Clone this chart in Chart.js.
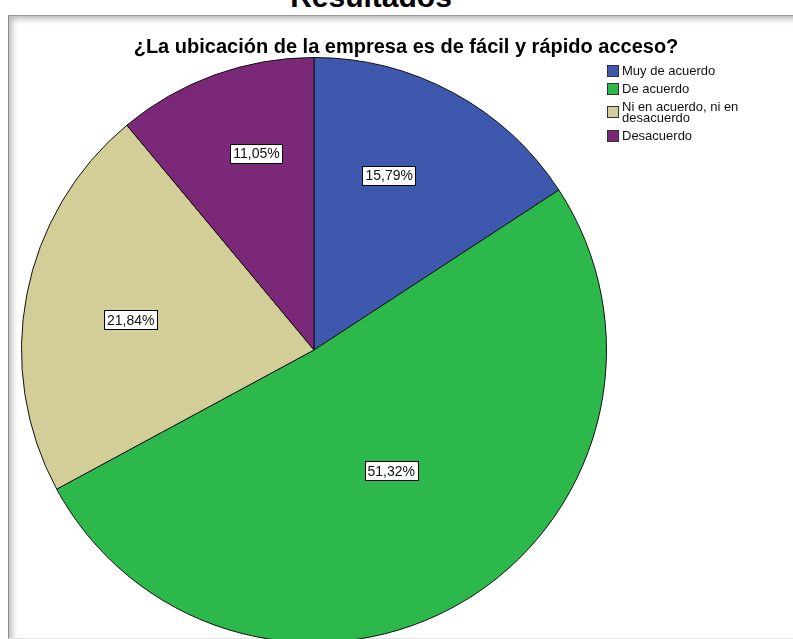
<!DOCTYPE html>
<html>
<head>
<meta charset="utf-8">
<script src="https://cdn.jsdelivr.net/npm/chart.js@4/dist/chart.umd.min.js"></script>
<style>
	html, body { margin: 0; padding: 0; background: #fff; width: 793px; height: 639px; overflow: hidden; font-family: "Liberation Sans", Arial, sans-serif; }
	#encabezado { position: absolute; left: 0; top: -18px; width: 742px; text-align: center; font-size: 30px; line-height: 30px; font-weight: bold; color: #000; }
	#marco { position: absolute; left: 8px; top: 15px; width: 820px; height: 622px; border-left: 1px solid #8c8c8c; border-top: 1px solid #9a9a9a; border-bottom: 1px solid #e4e4e4; box-shadow: inset 6px 6px 6px -3px rgba(0,0,0,0.28); }
	#grafica { position: absolute; left: 0; top: 0; }
</style>
</head>
<body>
<div id="encabezado">Resultados</div>
<div id="marco"></div>
<canvas id="grafica" width="793" height="660"></canvas>
<script>
/*******************************************************************************
 * Datos
 *******************************************************************************/

var titulo_pregunta = "¿La ubicación de la empresa es de fácil y rápido acceso?";
var respuestas = ["Muy de acuerdo", "De acuerdo", ["Ni en acuerdo, ni en", "desacuerdo"], "Desacuerdo"];
var porcentajes = [15.79, 51.32, 21.84, 11.05];
var colores = ["#3e58ad", "#2db84c", "#d3ce97", "#7b2878"];

/*******************************************************************************
 * Plugins de dibujo
 *******************************************************************************/

// Etiquetas con el porcentaje dentro de cada sector (caja blanca con borde negro)
var etiquetasPorcentaje = {
	id: 'etiquetasPorcentaje',
	afterDatasetsDraw: function (chart, args, opts)
	{
		var ctx = chart.ctx;
		var meta = chart.getDatasetMeta(0);
		var valores = chart.data.datasets[0].data;

		ctx.save();
		ctx.font = "14px 'Liberation Sans', Arial, sans-serif";
		ctx.textAlign = "center";
		ctx.textBaseline = "middle";

		meta.data.forEach(function (arco, i) {
			var p = arco.getProps(['x', 'y', 'startAngle', 'endAngle', 'outerRadius'], true);
			var sitio = opts.sitio[i];
			var angulo = p.startAngle + (p.endAngle - p.startAngle) * sitio[1];
			var r = p.outerRadius * sitio[0];
			var x = p.x + Math.cos(angulo) * r;
			var y = p.y + Math.sin(angulo) * r;

			var texto = valores[i].toFixed(2).replace(".", ",") + "%";
			var ancho = ctx.measureText(texto).width + 6;
			var alto = 19;

			ctx.fillStyle = "#fff";
			ctx.fillRect(Math.round(x - ancho / 2) + 0.5, Math.round(y - alto / 2) + 0.5, Math.round(ancho), alto);
			ctx.strokeStyle = "#000";
			ctx.lineWidth = 1;
			ctx.strokeRect(Math.round(x - ancho / 2) + 0.5, Math.round(y - alto / 2) + 0.5, Math.round(ancho), alto);

			ctx.fillStyle = "#111";
			ctx.fillText(texto, x, y + 1);
		});
		ctx.restore();
	}
};

// Titulo de la pregunta y leyenda a la derecha
var tituloYLeyenda = {
	id: 'tituloYLeyenda',
	afterDraw: function (chart, args, opts)
	{
		var ctx = chart.ctx;
		var dataset = chart.data.datasets[0];

		ctx.save();
		ctx.font = "bold 20px 'Liberation Sans', Arial, sans-serif";
		ctx.fillStyle = "#000";
		ctx.textAlign = "center";
		ctx.textBaseline = "alphabetic";
		ctx.fillText(opts.titulo, 406, 53);

		ctx.font = "13px 'Liberation Sans', Arial, sans-serif";
		ctx.textAlign = "left";
		ctx.textBaseline = "middle";

		var y = 70;
		var alto_linea = 11;
		chart.data.labels.forEach(function (etiqueta, i) {
			var lineas = Array.isArray(etiqueta) ? etiqueta : [etiqueta];
			var centro = y + (lineas.length - 1) * alto_linea / 2;

			ctx.fillStyle = dataset.backgroundColor[i];
			ctx.fillRect(607.5, Math.round(centro - 5.5) + 0.5, 11, 11);
			ctx.strokeStyle = "#333";
			ctx.lineWidth = 1;
			ctx.strokeRect(607.5, Math.round(centro - 5.5) + 0.5, 11, 11);

			ctx.fillStyle = "#111";
			lineas.forEach(function (linea, j) {
				ctx.fillText(linea, 622, y + j * alto_linea + 1);
			});
			y += (lineas.length - 1) * alto_linea + 18;
		});
		ctx.restore();
	}
};

/*******************************************************************************
 * Grafica
 *******************************************************************************/

var contexto_canvas = document.getElementById('grafica').getContext('2d');

var grafica = new Chart(contexto_canvas, {
	type: 'pie',
	data: {
		labels: respuestas,
		datasets: [{
			data: porcentajes,
			backgroundColor: colores,
			borderColor: "#111",
			borderWidth: 1
		}]
	},
	options: {
		responsive: false,
		animation: false,
		layout: {
			padding: { left: 21, right: 186, top: 57, bottom: 17 }
		},
		plugins: {
			legend: { display: false },
			title: { display: false },
			tooltip: { enabled: false },
			etiquetasPorcentaje: {
				// [fraccion del radio, posicion dentro del sector]
				sitio: [[0.65, 0.41], [0.49, 0.49], [0.635, 0.48], [0.70, 0.59]]
			},
			tituloYLeyenda: {
				titulo: titulo_pregunta
			}
		}
	},
	plugins: [etiquetasPorcentaje, tituloYLeyenda]
});
</script>
</body>
</html>
